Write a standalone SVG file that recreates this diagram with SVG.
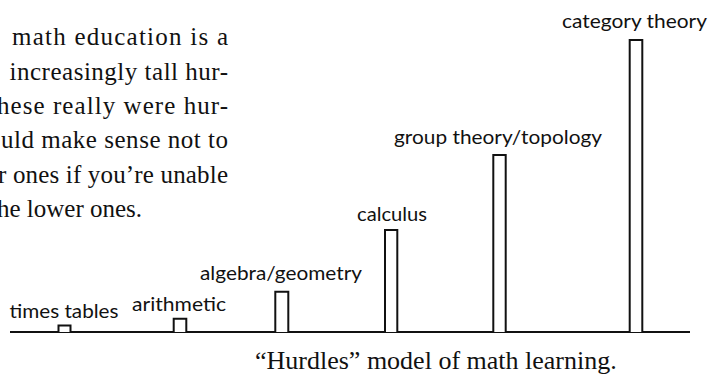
<svg xmlns="http://www.w3.org/2000/svg" width="709" height="375" viewBox="0 0 709 375">
<style>
.para{font-family:"Liberation Serif","Times New Roman",serif;font-size:25px;fill:#111}
.cap{font-family:"Liberation Serif","Times New Roman",serif;font-size:26px;fill:#111}
.lbl{font-family:Lato,"Open Sans",sans-serif;font-size:19px;fill:#111}
.bar{fill:#fff;stroke:#111;stroke-width:2}
.ground{stroke:#111;stroke-width:2.2;fill:none}
</style>
<rect width="709" height="375" fill="#fff"/>
<g id="paragraph">
<text class="para" x="12" y="45" textLength="216" lengthAdjust="spacing">math education is a</text>
<text class="para" x="9.5" y="79.5" textLength="218.5" lengthAdjust="spacing">increasingly tall hur-</text>
<text class="para" x="-3" y="114" textLength="231" lengthAdjust="spacing">hese really were hur-</text>
<text class="para" x="1" y="148" textLength="227" lengthAdjust="spacing">uld make sense not to</text>
<text class="para" x="-2" y="182.5" textLength="230" lengthAdjust="spacing">r ones if you’re unable</text>
<text class="para" x="-3" y="217">he lower ones.</text>
</g>
<g id="connectors">
<line class="ground" x1="10" y1="332" x2="690" y2="332"/>
</g>
<g id="times-tables">
<path class="bar" d="M58.5 332V325.5H70.5V332"/>
<text class="lbl" x="9.5" y="318" textLength="109" lengthAdjust="spacingAndGlyphs">times tables</text>
</g>
<g id="arithmetic">
<path class="bar" d="M173.7 332V318.7H186.3V332"/>
<text class="lbl" x="132" y="311" textLength="94" lengthAdjust="spacingAndGlyphs">arithmetic</text>
</g>
<g id="algebra-geometry">
<path class="bar" d="M275.3 332V291.7H288.3V332"/>
<text class="lbl" x="200" y="280" textLength="162" lengthAdjust="spacingAndGlyphs">algebra/geometry</text>
</g>
<g id="calculus">
<path class="bar" d="M385 332V230H397.3V332"/>
<text class="lbl" x="357" y="221" textLength="70" lengthAdjust="spacingAndGlyphs">calculus</text>
</g>
<g id="group-theory-topology">
<path class="bar" d="M493.3 332V155H505.7V332"/>
<text class="lbl" x="394" y="144" textLength="208" lengthAdjust="spacingAndGlyphs">group theory/topology</text>
</g>
<g id="category-theory">
<path class="bar" d="M629.7 332V40H642.3V332"/>
<text class="lbl" x="562" y="28" textLength="145" lengthAdjust="spacingAndGlyphs">category theory</text>
</g>
<g id="caption">
<text class="cap" x="255" y="369">“Hurdles” model of math learning.</text>
</g>
</svg>
